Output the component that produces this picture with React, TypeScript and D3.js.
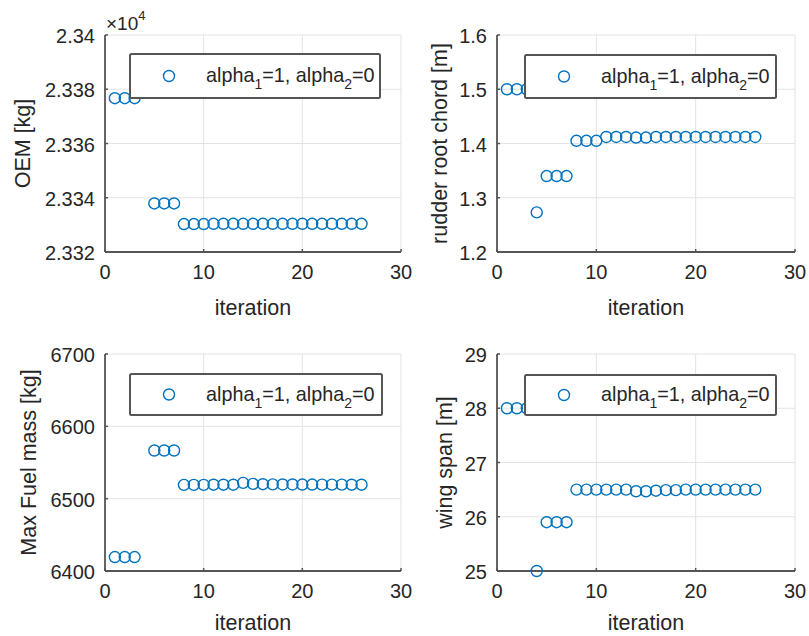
import React from 'react';
import * as d3 from 'd3';

// Optimisation history, one value per iteration
const iterations = [1, 2, 3, 4, 5, 6, 7, 8, 9, 10, 11, 12, 13, 14, 15, 16, 17, 18, 19, 20, 21, 22, 23, 24, 25, 26];
const oemKg = [23376.7, 23376.7, 23376.7, 23385.0, 23337.9, 23337.9, 23337.9, 23330.3, 23330.3, 23330.3, 23330.4, 23330.4, 23330.4, 23330.4, 23330.4, 23330.4, 23330.4, 23330.4, 23330.4, 23330.4, 23330.4, 23330.4, 23330.4, 23330.4, 23330.4, 23330.4];
const rudderRootChord = [1.5, 1.5, 1.5, 1.273, 1.340, 1.340, 1.340, 1.405, 1.405, 1.405, 1.412, 1.412, 1.412, 1.411, 1.411, 1.412, 1.412, 1.412, 1.412, 1.412, 1.412, 1.412, 1.412, 1.412, 1.412, 1.412];
const maxFuelMass = [6419.3, 6419.3, 6419.3, 6640.0, 6566.6, 6566.6, 6566.6, 6519.1, 6519.1, 6519.1, 6519.3, 6519.3, 6519.3, 6521.9, 6520.5, 6520.0, 6519.8, 6519.6, 6519.6, 6519.5, 6519.5, 6519.4, 6519.4, 6519.4, 6519.3, 6519.3];
const wingSpan = [28.0, 28.0, 28.0, 25.0, 25.9, 25.9, 25.9, 26.5, 26.5, 26.5, 26.5, 26.5, 26.5, 26.47, 26.47, 26.48, 26.49, 26.49, 26.5, 26.5, 26.5, 26.5, 26.5, 26.5, 26.5, 26.5];

const xTicks = [0, 10, 20, 30];
const oemTicks = [23320, 23340, 23360, 23380, 23400];
const rudderTicks = [1.2, 1.3, 1.4, 1.5, 1.6];
const fuelTicks = [6400, 6500, 6600, 6700];
const spanTicks = [25, 26, 27, 28, 29];

const xLabel = 'iteration';
const seriesName = ['alpha', '1', '=1, alpha', '2', '=0'];

const FONT = '"Liberation Sans", Arial, Helvetica, sans-serif';
const TEXT = '#262626';
const AXIS = '#555555';
const GRID = '#e3e3e3';
const BLUE = '#0072BD';

type PanelProps = {
  left: number; right: number; top: number; bottom: number;
  values: number[];
  yTicks: number[];
  yFormat: (v: number) => string;
  yLabel: string;
  yLabelX: number;
  xLabelGap: number;
  legend: { x: number; y: number; w: number; h: number };
  exponent?: string;
};

function Panel(p: PanelProps) {
  const x = d3.scaleLinear().domain([0, 30]).range([p.left, p.right]);
  const y = d3.scaleLinear()
    .domain([p.yTicks[0], p.yTicks[p.yTicks.length - 1]])
    .range([p.bottom, p.top]);
  const midY = (p.top + p.bottom) / 2;
  const L = p.legend;
  return (
    <g>
      {/* grid */}
      {xTicks.slice(1).map(t => (
        <line key={'gx' + t} x1={x(t)} x2={x(t)} y1={p.top} y2={p.bottom} stroke={GRID} strokeWidth={1} />
      ))}
      {p.yTicks.slice(1).map(t => (
        <line key={'gy' + t} x1={p.left} x2={p.right} y1={y(t)} y2={y(t)} stroke={GRID} strokeWidth={1} />
      ))}
      {/* axes */}
      <line x1={p.left} x2={p.left} y1={p.top} y2={p.bottom} stroke={AXIS} strokeWidth={1.8} />
      <line x1={p.left} x2={p.right} y1={p.bottom} y2={p.bottom} stroke={AXIS} strokeWidth={1.8} />
      {xTicks.map(t => (
        <g key={'xt' + t}>
          <line x1={x(t)} x2={x(t)} y1={p.bottom} y2={p.bottom - 3} stroke={AXIS} strokeWidth={1.5} />
          <text x={x(t)} y={p.bottom + 27} textAnchor="middle" fontSize={20} fill={TEXT}>{t}</text>
        </g>
      ))}
      {p.yTicks.map(t => (
        <g key={'yt' + t}>
          <line x1={p.left} x2={p.left + 3} y1={y(t)} y2={y(t)} stroke={AXIS} strokeWidth={1.5} />
          <text x={p.left - 10} y={y(t) + 8} textAnchor="end" fontSize={20} fill={TEXT}>{p.yFormat(t)}</text>
        </g>
      ))}
      {p.exponent && (
        <text x={p.left + 1} y={p.top - 5} fontSize={19} fill={TEXT}>
          ×10<tspan dy={-10} fontSize={13}>{p.exponent}</tspan>
        </text>
      )}
      <text x={(p.left + p.right) / 2} y={p.bottom + p.xLabelGap} textAnchor="middle" fontSize={21.5} fill={TEXT}>{xLabel}</text>
      <text transform={`translate(${p.yLabelX},${midY}) rotate(-90)`} textAnchor="middle" fontSize={21.5} fill={TEXT}>{p.yLabel}</text>
      {/* markers */}
      {p.values.map((v, i) => (
        <circle key={i} cx={x(iterations[i])} cy={y(v)} r={5.5} fill="none" stroke={BLUE} strokeWidth={1.4} />
      ))}
      {/* legend */}
      <rect x={L.x} y={L.y} width={L.w} height={L.h} fill="#ffffff" stroke={AXIS} strokeWidth={2} rx={1.5} />
      <circle cx={L.x + 39} cy={L.y + L.h / 2} r={5.5} fill="none" stroke={BLUE} strokeWidth={1.4} />
      <text x={L.x + 76} y={L.y + L.h / 2 + 6} fontSize={19.8} fill={TEXT}>
        {seriesName[0]}
        <tspan dy={7} fontSize={14}>{seriesName[1]}</tspan>
        <tspan dy={-7}>{seriesName[2]}</tspan>
        <tspan dy={7} fontSize={14}>{seriesName[3]}</tspan>
        <tspan dy={-7}>{seriesName[4]}</tspan>
      </text>
    </g>
  );
}

export default function App() {
  return (
    <svg width={809} height={636} style={{ position: 'absolute', left: 0, top: 0, background: '#fff' }}
      fontFamily={FONT}>
      <rect width={809} height={636} fill="#ffffff" />
      <Panel left={105} right={401} top={35} bottom={252}
        values={oemKg} yTicks={oemTicks} yFormat={v => d3.format('.3~f')(v / 1e4)}
        yLabel="OEM [kg]" yLabelX={30} exponent="4" xLabelGap={63}
        legend={{ x: 130, y: 54, w: 250, h: 44 }} />
      <Panel left={497} right={795} top={35} bottom={252}
        values={rudderRootChord} yTicks={rudderTicks} yFormat={d3.format('.1f')}
        yLabel="rudder root chord [m]" yLabelX={447} xLabelGap={63}
        legend={{ x: 525, y: 55, w: 251, h: 43 }} />
      <Panel left={105} right={401} top={354} bottom={571}
        values={maxFuelMass} yTicks={fuelTicks} yFormat={d3.format('d')}
        yLabel="Max Fuel mass [kg]" yLabelX={36} xLabelGap={59}
        legend={{ x: 130, y: 374, w: 252, h: 41 }} />
      <Panel left={497} right={795} top={354} bottom={571}
        values={wingSpan} yTicks={spanTicks} yFormat={d3.format('d')}
        yLabel="wing span [m]" yLabelX={452} xLabelGap={59}
        legend={{ x: 525, y: 375, w: 251, h: 40 }} />
    </svg>
  );
}
